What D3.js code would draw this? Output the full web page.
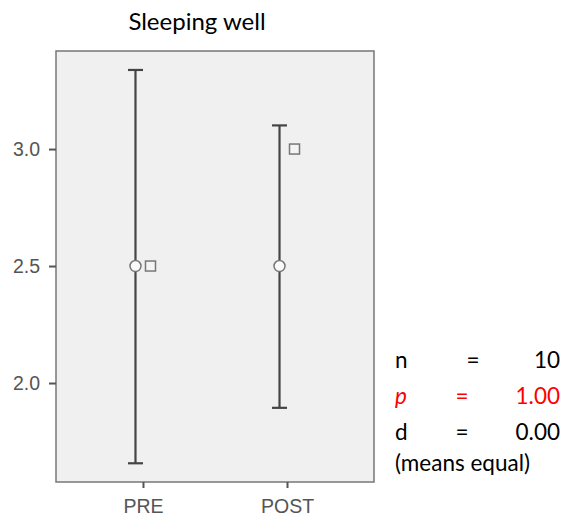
<!DOCTYPE html>
<html>
<head>
<meta charset="utf-8">
<script src="https://cdn.jsdelivr.net/npm/d3@7"></script>
<style>
  body { margin: 0; background: #fff; }
</style>
</head>
<body>
<div id="chart"></div>
<script>
// chart data
let groups = ["PRE", "POST"];
let means = [2.5, 2.5];
let lower = [1.657, 1.894];
let upper = [3.338, 3.101];
let medians = [2.5, 3.0];
let yTicks = [2.0, 2.5, 3.0];
let stats = [
  ["n", "=", "10"],
  ["p", "=", "1.00"],
  ["d", "=", "0.00"]
];

let width = 563, height = 516;
let margin = {top: 51, right: 189, bottom: 34, left: 56};
let plotW = width - margin.left - margin.right,
    plotH = height - margin.top - margin.bottom;

let svg = d3.select("#chart")
  .append("svg")
  .attr("width", width)
  .attr("height", height);

// title
svg.append("text")
  .attr("x", 197)
  .attr("y", 30)
  .attr("text-anchor", "middle")
  .style("font-family", "Lato, 'Open Sans', sans-serif")
  .style("font-size", "24px")
  .style("fill", "#000")
  .text("Sleeping well");

let g = svg.append("g")
  .attr("transform", "translate(" + margin.left + "," + margin.top + ")");

let x = d3.scalePoint()
  .domain(groups)
  .range([0, plotW])
  .padding(0.604);

let y = d3.scaleLinear()
  .domain([1.577, 3.419])
  .range([plotH, 0]);

// panel
g.append("rect")
  .attr("width", plotW)
  .attr("height", plotH)
  .style("fill", "#f0f0f0")
  .style("stroke", "#777")
  .style("stroke-width", 1.5);

// y axis
let yAxis = g.append("g")
  .call(d3.axisLeft(y).tickValues(yTicks).tickFormat(d3.format(".1f")).tickSize(7).tickPadding(9));
yAxis.select(".domain").remove();
yAxis.selectAll("line").style("stroke", "#555").style("stroke-width", 2);
yAxis.selectAll("text")
  .style("font-family", "'Liberation Sans', Arial, sans-serif")
  .style("font-size", "19.5px")
  .style("fill", "#555");

// x axis
let xAxis = g.append("g")
  .attr("transform", "translate(0," + plotH + ")")
  .call(d3.axisBottom(x).tickSize(6).tickPadding(11));
xAxis.select(".domain").remove();
xAxis.selectAll("line").style("stroke", "#555").style("stroke-width", 2);
xAxis.selectAll("text")
  .style("font-family", "'Liberation Sans', Arial, sans-serif")
  .style("font-size", "19.5px")
  .style("fill", "#555");

let off = 7.5;
let capW = 7.5;

// error bars
let bars = g.append("g")
  .selectAll("g")
  .data(groups)
  .enter().append("g");

bars.append("line")
  .attr("x1", (d) => x(d) - off)
  .attr("x2", (d) => x(d) - off)
  .attr("y1", (d, i) => y(lower[i]))
  .attr("y2", (d, i) => y(upper[i]))
  .style("stroke", "#444")
  .style("stroke-width", 2.2);

bars.append("line")
  .attr("x1", (d) => x(d) - off - capW)
  .attr("x2", (d) => x(d) - off + capW)
  .attr("y1", (d, i) => y(upper[i]))
  .attr("y2", (d, i) => y(upper[i]))
  .style("stroke", "#444")
  .style("stroke-width", 2.2);

bars.append("line")
  .attr("x1", (d) => x(d) - off - capW)
  .attr("x2", (d) => x(d) - off + capW)
  .attr("y1", (d, i) => y(lower[i]))
  .attr("y2", (d, i) => y(lower[i]))
  .style("stroke", "#444")
  .style("stroke-width", 2.2);

// mean
bars.append("circle")
  .attr("cx", (d) => x(d) - off)
  .attr("cy", (d, i) => y(means[i]))
  .attr("r", 5.5)
  .style("fill", "#fafafa")
  .style("stroke", "#777")
  .style("stroke-width", 1.5);

// median
bars.append("rect")
  .attr("x", (d) => x(d) + off - 5)
  .attr("y", (d, i) => y(medians[i]) - 5)
  .attr("width", 10)
  .attr("height", 10)
  .style("fill", "#f4f4f4")
  .style("stroke", "#777")
  .style("stroke-width", 1.5);

// stats block
let st = svg.append("g")
  .style("font-family", "Lato, 'Open Sans', sans-serif")
  .style("font-size", "22.5px");

stats.forEach((row, i) => {
  let yy = 368 + i * 36;
  let col = row[0] == "p" ? "#ff0000" : "#000";
  st.append("text").attr("x", 395).attr("y", yy)
    .style("fill", col)
    .style("font-style", row[0] == "p" ? "italic" : "normal")
    .text(row[0]);
  st.append("text").attr("x", row[0] == "n" ? 473 : 462).attr("y", yy)
    .attr("text-anchor", "middle")
    .style("fill", col).text(row[1]);
  st.append("text").attr("x", 560).attr("y", yy)
    .attr("text-anchor", "end")
    .style("fill", col).text(row[2]);
});
st.append("text").attr("x", 395).attr("y", 471)
  .style("fill", "#000")
  .text("(means equal)");
</script>
</body>
</html>
